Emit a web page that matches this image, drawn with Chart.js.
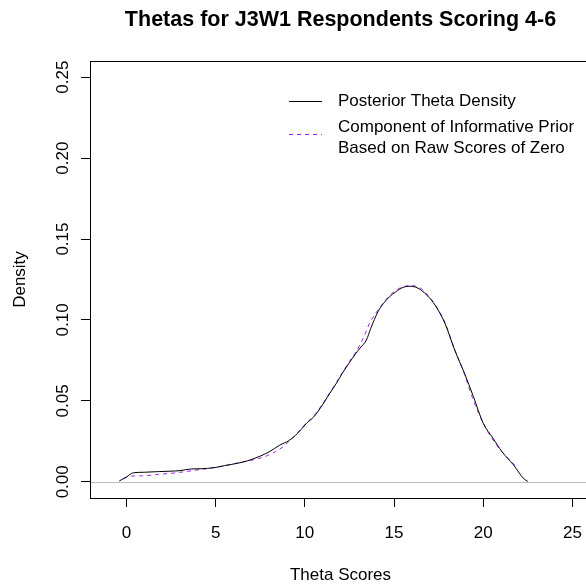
<!DOCTYPE html>
<html>
<head>
<meta charset="utf-8">
<script src="https://cdn.jsdelivr.net/npm/chart.js@4/dist/chart.umd.min.js"></script>
<style>
  html, body { margin: 0; padding: 0; background: #fff; overflow: hidden; }
  #wrap { width: 600px; height: 586px; }
</style>
</head>
<body>
<div id="wrap"><canvas id="c" width="600" height="586"></canvas></div>
<script>
// Posterior theta density (solid black)
const thetaPosterior = [-0.4, 0.0, 0.4, 1.0, 1.8, 2.5, 3.0, 3.6, 4.2, 4.9, 5.5, 6.2, 6.8, 7.5, 8.0,
  8.6, 9.1, 9.6, 10.1, 10.5, 11.0, 11.4, 11.8, 12.1, 12.5, 12.8, 13.1, 13.45, 13.7, 14.1, 14.4,
  14.75, 15.1, 15.5, 15.9, 16.2, 16.5, 16.9, 17.3, 17.85, 18.4, 18.95, 19.45, 20.0, 20.55, 21.05,
  21.7, 22.25, 22.5];
const densityPosterior = [0.0005, 0.0030, 0.0056, 0.0059, 0.0063, 0.0066, 0.0069, 0.0079, 0.0081,
  0.0087, 0.0100, 0.0114, 0.0130, 0.0159, 0.0185, 0.0227, 0.0254, 0.0300, 0.0362, 0.0401, 0.0477,
  0.0547, 0.0614, 0.0670, 0.0736, 0.0784, 0.0827, 0.0876, 0.0949, 0.1051, 0.1101, 0.1144, 0.1174,
  0.1201, 0.1208, 0.1203, 0.1186, 0.1147, 0.1092, 0.0980, 0.0814, 0.0670, 0.0526, 0.0362, 0.0269,
  0.0186, 0.0104, 0.0022, 0.0002];

// Informative prior component for raw scores of zero (dashed purple)
const thetaPrior = [-0.15, 0.15, 0.9, 1.8, 2.8, 3.7, 4.6, 5.3, 6.0, 6.6, 7.4, 7.9, 8.3, 8.8, 9.2,
  9.6, 10.1, 10.5, 11.0, 11.4, 11.8, 12.1, 12.5, 12.8, 13.1, 13.35, 13.65, 14.1, 14.4, 14.75,
  15.1, 15.5, 16.0, 16.3, 16.6, 16.9, 17.3, 17.85, 18.4, 18.95, 19.4, 20.1, 20.75, 21.3, 21.95];
const densityPrior = [0.0020, 0.0034, 0.0037, 0.0046, 0.0056, 0.0069, 0.0083, 0.0095, 0.0111,
  0.0125, 0.0143, 0.0162, 0.0183, 0.0218, 0.0259, 0.0304, 0.0365, 0.0406, 0.0482, 0.0551, 0.0619,
  0.0675, 0.0743, 0.0792, 0.0848, 0.0907, 0.0985, 0.1061, 0.1106, 0.1150, 0.1183, 0.1205, 0.1213,
  0.1206, 0.1188, 0.1152, 0.1096, 0.0985, 0.0817, 0.0665, 0.0518, 0.0340, 0.0227, 0.0155, 0.0083];

const seriesNames = ['Posterior Theta Density', 'Component of Informative Prior\nBased on Raw Scores of Zero'];
const xTickValues = [0, 5, 10, 15, 20, 25];
const yTickValues = [0.00, 0.05, 0.10, 0.15, 0.20, 0.25];
const chartTitle = 'Thetas for J3W1 Respondents Scoring 4-6';
const xAxisTitle = 'Theta Scores';
const yAxisTitle = 'Density';

const FONT = '"Liberation Sans", Arial, Helvetica, sans-serif';
const PURPLE = '#a020f0';

const toPoints = (xs, ys) => xs.map((x, i) => ({ x: x, y: ys[i] }));

// Horizontal reference line at zero density
const zeroLine = {
  id: 'zeroLine',
  beforeDatasetsDraw(chart) {
    const { ctx, chartArea } = chart;
    const y = Math.round(chart.scales.y.getPixelForValue(0)) + 0.5;
    ctx.save();
    ctx.strokeStyle = '#bebebe';
    ctx.lineWidth = 1;
    ctx.beginPath();
    ctx.moveTo(chartArea.left, y);
    ctx.lineTo(chartArea.right, y);
    ctx.stroke();
    ctx.restore();
  }
};

// Full box around the plotting region
const plotBox = {
  id: 'plotBox',
  afterDraw(chart) {
    const { ctx, chartArea: a } = chart;
    ctx.save();
    ctx.strokeStyle = '#000';
    ctx.lineWidth = 1;
    ctx.strokeRect(Math.round(a.left) + 0.5, Math.round(a.top) + 0.5,
      Math.round(a.right - a.left), Math.round(a.bottom - a.top));
    ctx.restore();
  }
};

// Legend with line samples and (possibly multi-line) labels
const boxLegend = {
  id: 'boxLegend',
  afterDraw(chart) {
    const { ctx } = chart;
    const rows = [
      { ds: chart.data.datasets[0], lineY: 101, textY: [101.5] },
      { ds: chart.data.datasets[1], lineY: 134, textY: [127.5, 148.5] }
    ];
    ctx.save();
    ctx.font = '17px ' + FONT;
    ctx.textBaseline = 'middle';
    ctx.textAlign = 'left';
    ctx.fillStyle = '#000';
    rows.forEach(r => {
      ctx.strokeStyle = r.ds.borderColor;
      ctx.lineWidth = 1;
      ctx.setLineDash(r.ds.borderDash || []);
      ctx.beginPath();
      ctx.moveTo(289, r.lineY + 0.5);
      ctx.lineTo(322, r.lineY + 0.5);
      ctx.stroke();
      ctx.setLineDash([]);
      r.ds.label.split('\n').forEach((t, i) => ctx.fillText(t, 338, r.textY[i]));
    });
    ctx.restore();
  }
};

new Chart(document.getElementById('c'), {
  type: 'line',
  data: {
    datasets: [
      {
        label: seriesNames[0],
        data: toPoints(thetaPosterior, densityPosterior),
        borderColor: '#000',
        borderWidth: 1,
        pointRadius: 0,
        cubicInterpolationMode: 'monotone'
      },
      {
        label: seriesNames[1],
        data: toPoints(thetaPrior, densityPrior),
        borderColor: PURPLE,
        borderWidth: 1,
        borderDash: [4, 4],
        pointRadius: 0,
        cubicInterpolationMode: 'monotone'
      }
    ]
  },
  options: {
    responsive: false,
    animation: false,
    devicePixelRatio: 1,
    layout: { padding: { left: 0, top: 0, right: 9, bottom: 0 } },
    plugins: {
      legend: { display: false },
      tooltip: { enabled: false },
      title: {
        display: true,
        text: chartTitle,
        fullSize: false,
        color: '#000',
        font: { family: FONT, size: 21.5, weight: 'bold', lineHeight: 1.2 },
        padding: { top: 7.6, bottom: 27.6 }
      }
    },
    scales: {
      x: {
        type: 'linear',
        min: -2.04,
        max: 26.04,
        afterFit(scale) { scale.height = 88; },
        afterBuildTicks(scale) { scale.ticks = xTickValues.map(v => ({ value: v })); },
        grid: { drawOnChartArea: false, drawTicks: true, tickLength: 9, tickColor: '#000' },
        border: { display: true, color: '#000', width: 1 },
        ticks: {
          autoSkip: false,
          maxRotation: 0,
          color: '#000',
          padding: 16,
          font: { family: FONT, size: 17 },
          callback: v => String(v)
        },
        title: {
          display: true,
          text: xAxisTitle,
          color: '#000',
          font: { family: FONT, size: 17 },
          padding: { top: 0, bottom: 0.8 }
        }
      },
      y: {
        type: 'linear',
        min: -0.01,
        max: 0.26,
        afterFit(scale) { scale.width = 90; },
        afterBuildTicks(scale) { scale.ticks = yTickValues.map(v => ({ value: v })); },
        grid: { drawOnChartArea: false, drawTicks: true, tickLength: 9, tickColor: '#000' },
        border: { display: true, color: '#000', width: 1 },
        ticks: {
          autoSkip: false,
          minRotation: 90,
          maxRotation: 90,
          crossAlign: 'center',
          color: '#000',
          padding: 1.5,
          font: { family: FONT, size: 17 },
          callback: v => v.toFixed(2)
        },
        title: {
          display: true,
          text: yAxisTitle,
          color: '#000',
          font: { family: FONT, size: 17 },
          padding: { top: 10.3, bottom: 0 }
        }
      }
    }
  },
  plugins: [zeroLine, plotBox, boxLegend]
});
</script>
</body>
</html>
